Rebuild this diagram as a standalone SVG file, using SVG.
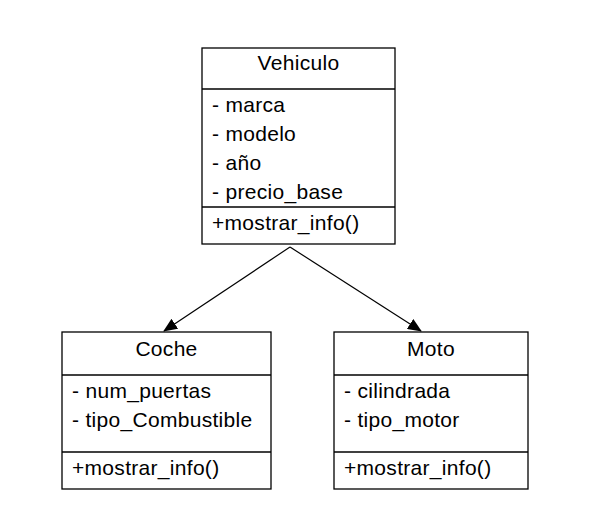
<svg xmlns="http://www.w3.org/2000/svg" width="607" height="532" viewBox="0 0 607 532">
<defs>
<style>
.box{fill:#fff;stroke:#000;stroke-width:1.3}
.ln{stroke:#000;stroke-width:1.3}
text{font-family:"Liberation Sans",Arial,sans-serif;font-size:21px;letter-spacing:0.3px;fill:#000}
.t{text-anchor:middle}
.c{stroke:#000;stroke-width:1.2;fill:none}
</style>
<marker id="ah" markerWidth="14" markerHeight="12" refX="13" refY="6" orient="auto" markerUnits="userSpaceOnUse">
<path d="M0,0 L14,6 L0,12 Z" fill="#000"/>
</marker>
</defs>
<rect width="607" height="532" fill="#fff"/>
<g id="connectors">
<line class="c" x1="290" y1="247" x2="164" y2="331" marker-end="url(#ah)"/>
<line class="c" x1="290" y1="247" x2="421" y2="331" marker-end="url(#ah)"/>
</g>
<g id="vehiculo">
<rect class="box" x="202" y="48" width="193" height="196"/>
<line class="ln" x1="202" y1="89" x2="395" y2="89"/>
<line class="ln" x1="202" y1="207" x2="395" y2="207"/>
<text class="t" x="298.5" y="70">Vehiculo</text>
<text x="212" y="112">- marca</text>
<text x="212" y="141">- modelo</text>
<text x="212" y="170">- año</text>
<text x="212" y="199">- precio_base</text>
<text x="212" y="230">+mostrar_info()</text>
</g>
<g id="coche">
<rect class="box" x="62" y="332" width="209" height="157"/>
<line class="ln" x1="62" y1="375" x2="271" y2="375"/>
<line class="ln" x1="62" y1="452" x2="271" y2="452"/>
<text class="t" x="166.5" y="356">Coche</text>
<text x="72" y="398">- num_puertas</text>
<text x="72" y="427">- tipo_Combustible</text>
<text x="72" y="475">+mostrar_info()</text>
</g>
<g id="moto">
<rect class="box" x="334" y="332" width="194" height="157"/>
<line class="ln" x1="334" y1="375" x2="528" y2="375"/>
<line class="ln" x1="334" y1="452" x2="528" y2="452"/>
<text class="t" x="431" y="356">Moto</text>
<text x="344" y="398">- cilindrada</text>
<text x="344" y="427">- tipo_motor</text>
<text x="344" y="475">+mostrar_info()</text>
</g>
</svg>
